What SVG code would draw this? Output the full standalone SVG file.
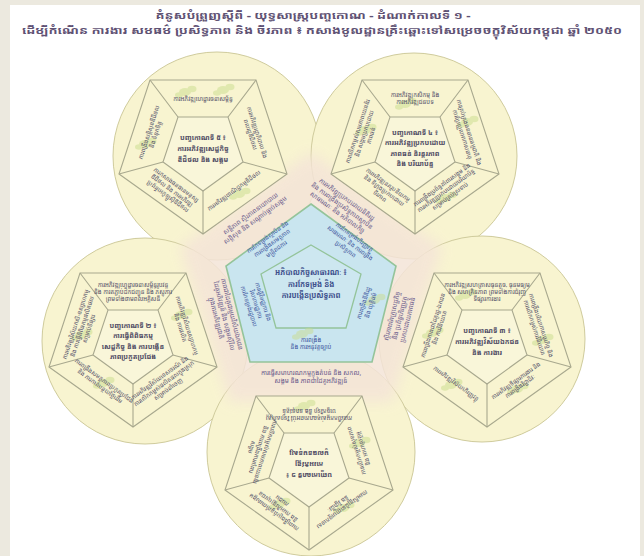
<svg xmlns="http://www.w3.org/2000/svg" xmlns:xlink="http://www.w3.org/1999/xlink" width="644" height="556" viewBox="0 0 644 556">
<defs>
<style>
text{font-family:"Noto Sans Khmer","Khmer OS","DejaVu Sans","Noto Sans",sans-serif;text-anchor:middle}
.title{font-size:10px;font-weight:bold;fill:#5f5274}
.circ{fill:#F8F4D0;stroke:#CFCB9C;stroke-width:1}
.po{fill:#F8F4D0;stroke:#A8A88E;stroke-width:1.1}
.pi{fill:#F9F6D9;stroke:#A8A88E;stroke-width:1.1}
.pl{fill:none;stroke:#A8A88E;stroke-width:1.1}
.cc{font-size:7px;font-weight:bold;fill:#4d4962}
.ct{font-size:6px;fill:#55526a}
.bo{fill:#C9E5EF;stroke:#94C49A;stroke-width:1.6}
.bi{fill:#CDE7F0;stroke:#94C49A;stroke-width:1.3}
.bc{font-size:7.5px;font-weight:bold;fill:#3d4f8c}
.bt{font-size:6px;fill:#3f58a0}
.pt{font-size:6.5px;fill:#6a5b8c}
.sp{fill:#C9DD8E;opacity:.5}
</style>
<filter id="soft" x="-20%" y="-20%" width="140%" height="140%"><feGaussianBlur stdDeviation="7"/></filter>
<g id="pframe">
<polygon class="po" points="-53,-72 53,-72 84,22 0,82 -84,22"/>
<polygon class="pi" points="-25,-35 25,-35 40,10 0,39 -40,10"/>
<path class="pl" d="M-53,-72L-25,-35M53,-72L25,-35M84,22L40,10M0,82L0,39M-84,22L-40,10"/>
</g>
<g id="sprig" class="sp"><ellipse cx="0" cy="0" rx="6" ry="4"/><ellipse cx="7" cy="-3" rx="4.5" ry="3.2"/><ellipse cx="-6" cy="3" rx="4" ry="2.8"/></g>
</defs>

<rect x="0" y="0" width="644" height="556" fill="#ECE9DF"/>
<rect x="10" y="5" width="630" height="551" fill="#FFFFFF"/>

<g id="title">
<text class="title" x="313" y="19" textLength="315" lengthAdjust="spacingAndGlyphs">គំនូសបំព្រួញស្តីពី - យុទ្ធសាស្ត្របញ្ចកោណ - ដំណាក់កាលទី ១ -</text>
<text class="title" x="322" y="34" textLength="600" lengthAdjust="spacingAndGlyphs">ដើម្បីកំណើន ការងារ សមធម៌ ប្រសិទ្ធភាព និង ចីរភាព ៖ កសាងមូលដ្ឋានគ្រឹះឆ្ពោះទៅសម្រេចចក្ខុវិស័យកម្ពុជា ឆ្នាំ ២០៥០</text>
</g>

<g id="circles">
<circle class="circ" cx="217" cy="156" r="104"/>
<circle class="circ" cx="414" cy="156" r="103"/>
<circle class="circ" cx="482" cy="339" r="103"/>
<circle class="circ" cx="145" cy="341" r="103"/>
<circle class="circ" cx="311" cy="452" r="104"/>
</g>

<polygon id="environment-zone" points="311,152 442,247 392,402 230,402 180,247" fill="#F4E4D8" opacity=".85" filter="url(#soft)"/>

<g id="node-p5" transform="translate(203,152)">
<use href="#pframe"/>
<use href="#sprig" x="-18" y="-60"/><use href="#sprig" x="20" y="-62"/><use href="#sprig" x="-58" y="-8"/><use href="#sprig" x="36" y="42"/>
<g transform="translate(0,-4)"><text class="cc"><tspan x="0" y="-8.5">បញ្ចកោណទី ៥ ៖</tspan><tspan x="0" y="2.5">ការអភិវឌ្ឍសេដ្ឋកិច្ច</tspan><tspan x="0" y="13.5">ឌីជីថល និង សង្គម</tspan></text></g>
<g transform="translate(0,-53.5)"><text class="ct"><tspan x="0" y="2">ការអភិវឌ្ឍហេដ្ឋារចនាសម្ព័ន្ធ</tspan></text></g>
<g transform="translate(50.7,-18.5) rotate(72)"><text class="ct"><tspan x="0" y="-1.5">ការអភិវឌ្ឍរដ្ឋាភិបាល និង</tspan><tspan x="0" y="5.5">ពលរដ្ឋឌីជីថល</tspan></text></g>
<g transform="translate(31,38.5) rotate(-36)"><text class="ct"><tspan x="0" y="2">ការអភិវឌ្ឍពាណិជ្ជកម្មឌីជីថល</tspan></text></g>
<g transform="translate(-31,38.5) rotate(36)"><text class="ct"><tspan x="0" y="-5">ការកសាងធនធានមនុស្ស</tspan><tspan x="0" y="2">ឌីជីថល និង ការអភិវឌ្ឍ</tspan><tspan x="0" y="9">ប្រព័ន្ធអេកូឡូស៊ីឌីជីថល</tspan></text></g>
<g transform="translate(-50.7,-18.5) rotate(-72)"><text class="ct"><tspan x="0" y="-1.5">ការពង្រឹងសន្តិសុខឌីជីថល</tspan><tspan x="0" y="5.5">និង ទំនុកចិត្ត</tspan></text></g>
</g>

<g id="node-p4" transform="translate(415,152)">
<use href="#pframe"/>
<use href="#sprig" x="-10" y="-48"/><use href="#sprig" x="52" y="-30"/><use href="#sprig" x="-50" y="-22"/><use href="#sprig" x="30" y="46"/>
<g transform="translate(0,-4)"><text class="cc"><tspan x="0" y="-13.25">បញ្ចកោណទី ៤ ៖</tspan><tspan x="0" y="-2.75">ការអភិវឌ្ឍប្រកបដោយ</tspan><tspan x="0" y="7.75">ភាពធន់ និរន្តរភាព</tspan><tspan x="0" y="18.25">និង បរិយាប័ន្ន</tspan></text></g>
<g transform="translate(0,-53.5)"><text class="ct"><tspan x="0" y="-1.5">ការអភិវឌ្ឍកសិកម្ម និង</tspan><tspan x="0" y="5.5">ការអភិវឌ្ឍជនបទ</tspan></text></g>
<g transform="translate(50.7,-18.5) rotate(72)"><text class="ct"><tspan x="0" y="-1.5">ការគ្រប់គ្រងធនធានធម្មជាតិ និង</tspan><tspan x="0" y="5.5">ការប្រែប្រួលអាកាសធាតុ</tspan></text></g>
<g transform="translate(31,38.5) rotate(-36)"><text class="ct"><tspan x="0" y="-5">ការពង្រឹងប្រព័ន្ធគាំពារសង្គម និង</tspan><tspan x="0" y="2">ការអភិវឌ្ឍប្រកបដោយបរិយាប័ន្ន</tspan><tspan x="0" y="9">សម្រាប់គ្រប់ស្រទាប់</tspan></text></g>
<g transform="translate(-31,38.5) rotate(36)"><text class="ct"><tspan x="0" y="-5">ការអភិវឌ្ឍនគរូបនីយកម្ម</tspan><tspan x="0" y="2">និង ទីក្រុងប្រកបដោយ</tspan><tspan x="0" y="9">ចីរភាព</tspan></text></g>
<g transform="translate(-50.7,-18.5) rotate(-72)"><text class="ct"><tspan x="0" y="-5">ការលើកកម្ពស់សមភាពយេនឌ័រ</tspan><tspan x="0" y="2">និង សង្គមប្រកបដោយ</tspan><tspan x="0" y="9">ភាពធន់</tspan></text></g>
</g>

<g id="node-p3" transform="translate(487,345)">
<use href="#pframe"/>
<use href="#sprig" x="-22" y="-50"/><use href="#sprig" x="55" y="-5"/><use href="#sprig" x="-55" y="-12"/><use href="#sprig" x="-36" y="40"/><use href="#sprig" x="30" y="44"/>
<g transform="translate(0,-4)"><text class="cc"><tspan x="0" y="-8.5">បញ្ចកោណទី ៣ ៖</tspan><tspan x="0" y="2.5">ការអភិវឌ្ឍវិស័យឯកជន</tspan><tspan x="0" y="13.5">និង ការងារ</tspan></text></g>
<g transform="translate(0,-53.5)"><text class="ct"><tspan x="0" y="-5">ការអភិវឌ្ឍសហគ្រាសធុនតូច, ធុនមធ្យម</tspan><tspan x="0" y="2">និង សហគ្រិនភាព ព្រមទាំងការជំរុញ</tspan><tspan x="0" y="9">ទីផ្សារការងារ</tspan></text></g>
<g transform="translate(50.7,-18.5) rotate(72)"><text class="ct"><tspan x="0" y="-1.5">ការពង្រឹងបរិយាកាសធុរកិច្ច និង</tspan><tspan x="0" y="5.5">ការលើកកម្ពស់ការវិនិយោគ</tspan></text></g>
<g transform="translate(31,38.5) rotate(-36)"><text class="ct"><tspan x="0" y="-1.5">ការអភិវឌ្ឍទីផ្សារការងារ និង</tspan><tspan x="0" y="5.5">ការពង្រឹងវិជ្ជាជីវៈ</tspan></text></g>
<g transform="translate(-31,38.5) rotate(36)"><text class="ct"><tspan x="0" y="2">ការអភិវឌ្ឍវិស័យហិរញ្ញវត្ថុ</tspan></text></g>
<g transform="translate(-50.7,-18.5) rotate(-72)"><text class="ct"><tspan x="0" y="-1.5">ការពង្រឹងភាពជាដៃគូរដ្ឋ-ឯកជន</tspan><tspan x="0" y="5.5">និង ការវិនិយោគ</tspan></text></g>
</g>

<g id="node-p2" transform="translate(133,345)">
<use href="#pframe"/>
<use href="#sprig" x="48" y="-30"/><use href="#sprig" x="-30" y="38"/><use href="#sprig" x="-52" y="-10"/>
<g transform="translate(0,-4)"><text class="cc"><tspan x="0" y="-13.25">បញ្ចកោណទី ២ ៖</tspan><tspan x="0" y="-2.75">ការធ្វើពិពិធកម្ម</tspan><tspan x="0" y="7.75">សេដ្ឋកិច្ច និង ការបង្កើន</tspan><tspan x="0" y="18.25">ភាពប្រកួតប្រជែង</tspan></text></g>
<g transform="translate(0,-53.5)"><text class="ct"><tspan x="0" y="-5">ការអភិវឌ្ឍហេដ្ឋារចនាសម្ព័ន្ធរូបវន្ត</tspan><tspan x="0" y="2">និង ការតភ្ជាប់ដឹកជញ្ជូន និង ភស្តុភារ</tspan><tspan x="0" y="9">ព្រមទាំងថាមពលអគ្គិសនី</tspan></text></g>
<g transform="translate(50.7,-18.5) rotate(72)"><text class="ct"><tspan x="0" y="-1.5">ការអភិវឌ្ឍវិស័យឧស្សាហកម្ម</tspan><tspan x="0" y="5.5">និង ការផលិត</tspan></text></g>
<g transform="translate(31,38.5) rotate(-36)"><text class="ct"><tspan x="0" y="-5">ការអភិវឌ្ឍវិស័យទេសចរណ៍ និង</tspan><tspan x="0" y="2">ការលើកកម្ពស់ផលិតផលក្នុងស្រុក</tspan><tspan x="0" y="9">សម្រាប់នាំចេញ</tspan></text></g>
<g transform="translate(-31,38.5) rotate(36)"><text class="ct"><tspan x="0" y="-1.5">ការពង្រឹងសមត្ថភាពប្រកួតប្រជែង</tspan><tspan x="0" y="5.5">និង ការកាត់បន្ថយថ្លៃដើម</tspan></text></g>
<g transform="translate(-50.7,-18.5) rotate(-72)"><text class="ct"><tspan x="0" y="-5">ការអភិវឌ្ឍវិស័យកសិ-ឧស្សាហកម្ម</tspan><tspan x="0" y="2">និង ការធ្វើពិពិធកម្មផលិតផល</tspan><tspan x="0" y="9">សម្រាប់ទីផ្សារ</tspan></text></g>
</g>

<g id="node-p1" transform="translate(309,468)">
<use href="#pframe"/>
<use href="#sprig" x="-5" y="-62"/><use href="#sprig" x="50" y="-25"/><use href="#sprig" x="-30" y="36"/><use href="#sprig" x="34" y="40"/>
<g transform="translate(0,-4) rotate(180)"><text class="cc"><tspan x="0" y="-8.5">បញ្ចកោណទី ១ ៖</tspan><tspan x="0" y="2.5">ការអភិវឌ្ឍ</tspan><tspan x="0" y="13.5">មូលធនមនុស្ស</tspan></text></g>
<g transform="translate(0,-53.5) rotate(180)"><text class="ct"><tspan x="0" y="-1.5">ការលើកកម្ពស់គុណភាពអប់រំ វិទ្យាសាស្ត្រ</tspan><tspan x="0" y="5.5">បច្ចេកវិទ្យា និង នវានុវត្តន៍</tspan></text></g>
<g transform="translate(50.7,-18.5) rotate(252)"><text class="ct"><tspan x="0" y="-1.5">ការលើកកម្ពស់សុខភាព</tspan><tspan x="0" y="5.5">និង អាហារូបត្ថម្ភ</tspan></text></g>
<g transform="translate(31,38.5) rotate(144)"><text class="ct"><tspan x="0" y="-1.5">ការអភិវឌ្ឍជំនាញបច្ចេកទេស</tspan><tspan x="0" y="5.5">និង វិជ្ជាជីវៈ</tspan></text></g>
<g transform="translate(-31,38.5) rotate(216)"><text class="ct"><tspan x="0" y="-5">ការពង្រឹងប្រព័ន្ធគាំពារសង្គម</tspan><tspan x="0" y="2">និង ការអភិវឌ្ឍយុវជន</tspan><tspan x="0" y="9">ការងារ</tspan></text></g>
<g transform="translate(-50.7,-18.5) rotate(108)"><text class="ct"><tspan x="0" y="-5">ការលើកកម្ពស់សមភាពយេនឌ័រ</tspan><tspan x="0" y="2">និង ការពង្រឹងការគាំពារ</tspan><tspan x="0" y="9">សង្គម</tspan></text></g>
</g>

<g id="node-core">
<polygon class="bo" points="311,204 396,266 372,362 250,362 226,266"/>
<polygon class="bi" points="311,245 361,274 346,328 276,328 261,274"/>
<use href="#sprig" x="302" y="334"/><use href="#sprig" x="374" y="300"/>
<g transform="translate(311,284)"><text class="bc"><tspan x="0" y="-9">អភិបាលកិច្ចសាធារណៈ ៖</tspan><tspan x="0" y="2.5">ការកែទម្រង់ និង</tspan><tspan x="0" y="14">ការបង្កើនប្រសិទ្ធភាព</tspan></text></g>
<g transform="translate(272,243) rotate(-36)"><text class="bt"><tspan x="0" y="-5.5">ការកែទម្រង់ស្ថាប័ន និង</tspan><tspan x="0" y="2">ការពង្រឹងសមត្ថភាព</tspan><tspan x="0" y="9.5">មន្ត្រីរាជការ</tspan></text></g>
<g transform="translate(350,243) rotate(36)"><text class="bt"><tspan x="0" y="-5.5">ការកែទម្រង់ហិរញ្ញវត្ថុ</tspan><tspan x="0" y="2">សាធារណៈ និង ការពង្រឹង</tspan><tspan x="0" y="9.5">ប្រសិទ្ធភាព</tspan></text></g>
<g transform="translate(367,304) rotate(-72)"><text class="bt"><tspan x="0" y="-1.5">ការពង្រឹងនីតិរដ្ឋ</tspan><tspan x="0" y="6">និង យុត្តិធម៌</tspan></text></g>
<g transform="translate(311,343)"><text class="bt"><tspan x="0" y="-1.5">ការពង្រឹង</tspan><tspan x="0" y="6">និង ការអនុវត្តច្បាប់</tspan></text></g>
<g transform="translate(256,304) rotate(72)"><text class="bt"><tspan x="0" y="-5.5">ការធ្វើវិមជ្ឈការ និង</tspan><tspan x="0" y="2">វិសហមជ្ឈការ</tspan><tspan x="0" y="9.5">ការកែទម្រង់រដ្ឋបាល</tspan></text></g>
</g>

<g id="node-environment">
<g transform="translate(253,217) rotate(-36)"><text class="pt"><tspan x="0" y="-2">សន្តិភាព ស្ថិរភាពនយោបាយ</tspan><tspan x="0" y="6">សន្តិសុខ និង សណ្តាប់ធ្នាប់សង្គម</tspan></text></g>
<g transform="translate(342,206) rotate(36)"><text class="pt"><tspan x="0" y="-6">ការអភិវឌ្ឍប្រកបដោយនីតិរដ្ឋ</tspan><tspan x="0" y="2">និង ការពង្រឹងប្រសិទ្ធភាពស្ថាប័ន</tspan><tspan x="0" y="10">សាធារណៈ និង អភិបាលកិច្ច</tspan></text></g>
<g transform="translate(400,318) rotate(-76)"><text class="pt"><tspan x="0" y="-6">ស្ថិរភាពម៉ាក្រូសេដ្ឋកិច្ច</tspan><tspan x="0" y="2">និង ប្រព័ន្ធហិរញ្ញវត្ថុ</tspan><tspan x="0" y="10">ប្រកបដោយភាពធន់</tspan></text></g>
<g transform="translate(311,377)"><text class="pt"><tspan x="0" y="-2">ការធ្វើសមាហរណកម្មក្នុងតំបន់ និង សកល,</tspan><tspan x="0" y="6">សង្គម និង ភាពជាដៃគូអភិវឌ្ឍន៍</tspan></text></g>
<g transform="translate(224,316) rotate(76)"><text class="pt"><tspan x="0" y="-6">ភាពជាដៃគូជាមួយវិស័យឯកជន</tspan><tspan x="0" y="2">ដៃគូអភិវឌ្ឍន៍ និង សង្គមស៊ីវិល</tspan><tspan x="0" y="10">ក្នុងការអភិវឌ្ឍជាតិ</tspan></text></g>
</g>
</svg>
